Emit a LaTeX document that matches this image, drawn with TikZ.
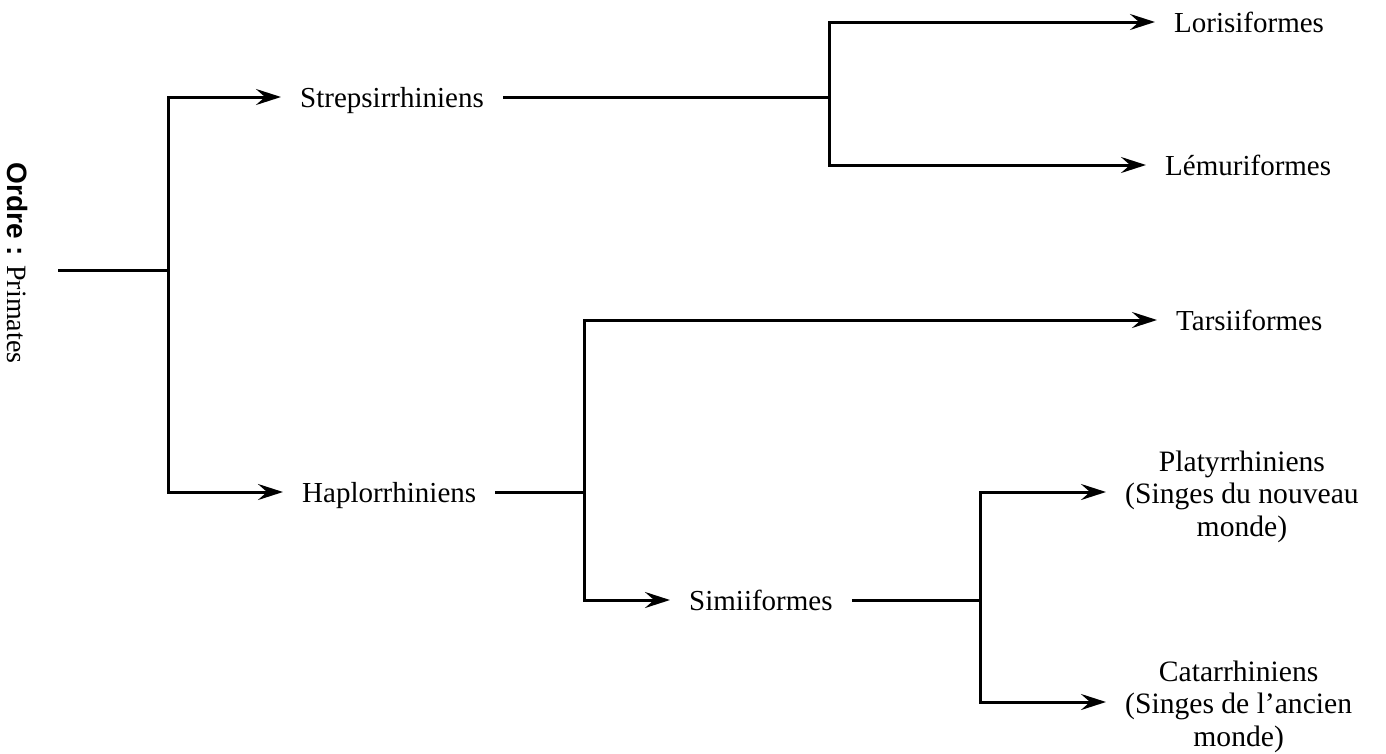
\documentclass[tikz,border=0pt]{standalone}
\usepackage{fontspec}
\setmainfont{Liberation Serif}
\setsansfont{Liberation Sans}
\usetikzlibrary{arrows.meta}
\begin{document}
\begin{tikzpicture}[x=1pt,y=-1pt,
  every node/.style={font=\fontsize{29}{32.5}\selectfont},
  taxon/.style={anchor=west, inner xsep=19pt, inner ysep=0pt, text height=26pt, text depth=5pt},
  taxonml/.style={anchor=west, inner xsep=19pt, inner ysep=0pt, align=center, font=\fontsize{29.6}{32.5}\selectfont},
  branch/.style={line width=3pt, line join=miter},
  arr/.style={branch, -{Stealth[length=25pt, width=16pt, inset=9pt]}}
]
\useasboundingbox (0,0) rectangle (1386,753);
% label
\node[rotate=-90, font=\fontsize{28}{32}\selectfont, inner sep=0pt] (ordre) at (18,263)
  {\textsf{\bfseries Ordre :} Primates};
% taxa
\node[taxon] (strep) at (281,97) {Strepsirrhiniens};
\node[taxon] (haplo) at (283,492) {Haplorrhiniens};
\node[taxon] (simi)  at (670,600) {Simiiformes};
\node[taxon] (loris) at (1155,22) {Lorisiformes};
\node[taxon] (lemur) at (1146,165) {Lémuriformes};
\node[taxon] (tarsi) at (1157,320) {Tarsiiformes};
\node[taxonml] (platy) at (1106,492) {\rule{0pt}{30pt}Platyrrhiniens\\(Singes du nouveau\\monde)};
\node[taxonml] (catar) at (1106,702) {\rule{0pt}{30pt}Catarrhiniens\\(Singes de l’ancien\\monde)};
% forks
\coordinate (root) at (58,270);
\coordinate (f1) at (168,270);
\coordinate (f2) at (829,97);
\coordinate (f3) at (584,492);
\coordinate (f4) at (980,600);
% connectors
\draw[branch] (root) -- (f1);
\draw[arr] (f1) |- (strep.west);
\draw[arr] (f1) |- (haplo.west);
\draw[branch] (strep.east) -- (f2);
\draw[arr] (f2) |- (loris.west);
\draw[arr] (f2) |- (lemur.west);
\draw[branch] (haplo.east) -- (f3);
\draw[arr] (f3) |- (tarsi.west);
\draw[arr] (f3) |- (simi.west);
\draw[branch] (simi.east) -- (f4);
\draw[arr] (f4) |- (platy.west);
\draw[arr] (f4) |- (catar.west);
\end{tikzpicture}
\end{document}
